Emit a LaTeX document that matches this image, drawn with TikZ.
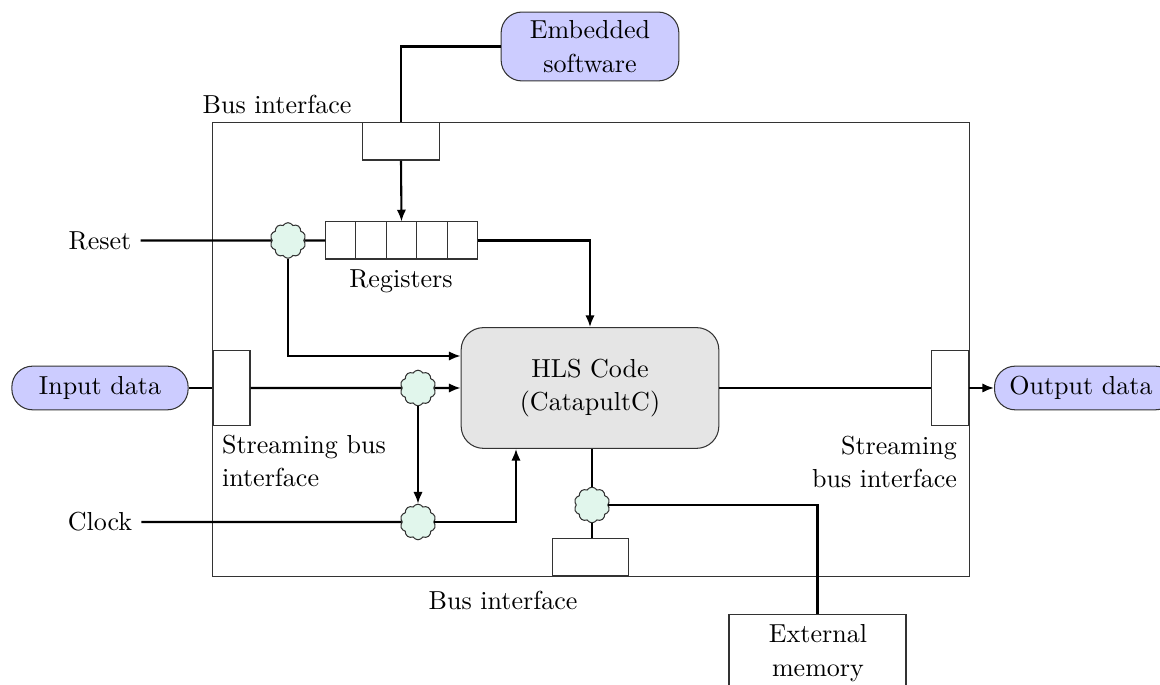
\documentclass[tikz,border=0pt]{standalone}
\usetikzlibrary{shapes.symbols,arrows.meta,calc}
\definecolor{mint}{RGB}{225,246,236}
\begin{document}
\begin{tikzpicture}[x=0.0135cm,y=-0.0135cm,
  font=\fontsize{10}{12.8}\selectfont,
  box/.style={draw=black!80, thin, inner sep=0pt},
  conn/.style={thick},
  arr/.style={thick,-{Latex[length=4.5pt,width=3.6pt]}},
  io/.style={draw=black!80, fill=blue!20, rounded corners=2.8mm, minimum height=0.59cm, inner sep=2pt},
  junction/.style={cloud, cloud puffs=10, cloud puff arc=120, aspect=1, draw=black!80, fill=mint, minimum size=0.48cm, inner sep=0pt},
  lbl/.style={inner sep=1pt}]
\useasboundingbox (0,0) rectangle (1160,685);

% main block
\node[box, minimum width=10.21cm, minimum height=6.12cm] (main) at (591,349.5) {};

% embedded software
\node[io, minimum width=2.40cm, minimum height=0.93cm, align=center] (emb) at (590,46.5) {Embedded\\software};
\node[box, minimum width=1.03cm, minimum height=0.5cm] (bustop) at (401,141.5) {};
\node[lbl] (bustoplbl) at (277,104) {Bus interface};

% registers
\node[box, minimum width=2.04cm, minimum height=0.5cm] (reg) at (401.5,240.5) {};
\foreach \i in {1,2,3,4} {
  \draw[draw=black!80, thin] ($(reg.north west)!\i/5!(reg.north east)$) -- ($(reg.south west)!\i/5!(reg.south east)$);
}
\node[lbl] (reglbl) at (401,281) {Registers};

% HLS
\node[draw=black!80, fill=black!10, rounded corners=3mm, minimum width=3.48cm, minimum height=1.63cm, align=center] (hls) at (590,388) {HLS Code\\(CatapultC)};

% left side
\node (reset) at (100,240.5) {Reset};
\node (clock) at (100,522) {Clock};
\node[io, minimum width=2.38cm] (in) at (100,388) {Input data};
\node[box, minimum width=0.5cm, minimum height=1.01cm] (sin) at (231.5,388) {};
\node[lbl, align=left, anchor=west] (sinlbl) at (219,461) {Streaming bus\\interface};

% right side
\node[box, minimum width=0.5cm, minimum height=1.01cm] (sout) at (950,388) {};
\node[io, minimum width=2.45cm, anchor=west] (out) at (994,388) {};
\node (outtxt) at (1081,388) {Output data};
\node[lbl, align=right, anchor=east] (soutlbl) at (960,462) {Streaming\\bus interface};

% bottom
\node[box, minimum width=1.03cm, minimum height=0.5cm] (busbot) at (590.5,557.5) {};
\node[lbl] (busbotlbl) at (503,600) {Bus interface};
\node[box, minimum width=2.39cm, minimum height=1.6cm, anchor=north] (mem) at (817.5,614) {};
\node[align=center] (memtxt) at (818,653) {External\\memory};

% junctions
\node[junction] (jr) at (288,240.5) {};
\node[junction] (ji) at (418,388) {};
\node[junction] (jc) at (418,522) {};
\node[junction] (jm) at (592,505) {};

% connectors
\draw[conn] (emb.west) -| (bustop.north);
\draw[arr] (bustop.south) -- (reg.north);
\draw[conn] (reset.east) -- (jr);
\draw[conn] (jr) -- (reg.west);
\draw[arr] (jr) |- (hls.west |- 0,356);
\draw[arr] (reg.east) -| (hls.north);
\draw[conn] (in.east) -- (sin.west);
\draw[conn] (sin.east) -- (ji);
\draw[arr] (ji) -- (hls.west |- ji);
\draw[arr] (ji) -- (jc);
\draw[conn] (clock.east) -- (jc);
\draw[arr] (jc) -| (hls.south -| 516,0);
\draw[conn] (hls.east) -- (sout.west);
\draw[arr] (sout.east) -- (out.west);
\draw[conn] (hls.south -| jm) -- (jm);
\draw[conn] (jm) -- (busbot.north -| jm);
\draw[conn] (jm) -| (mem.north);
\end{tikzpicture}
\end{document}
